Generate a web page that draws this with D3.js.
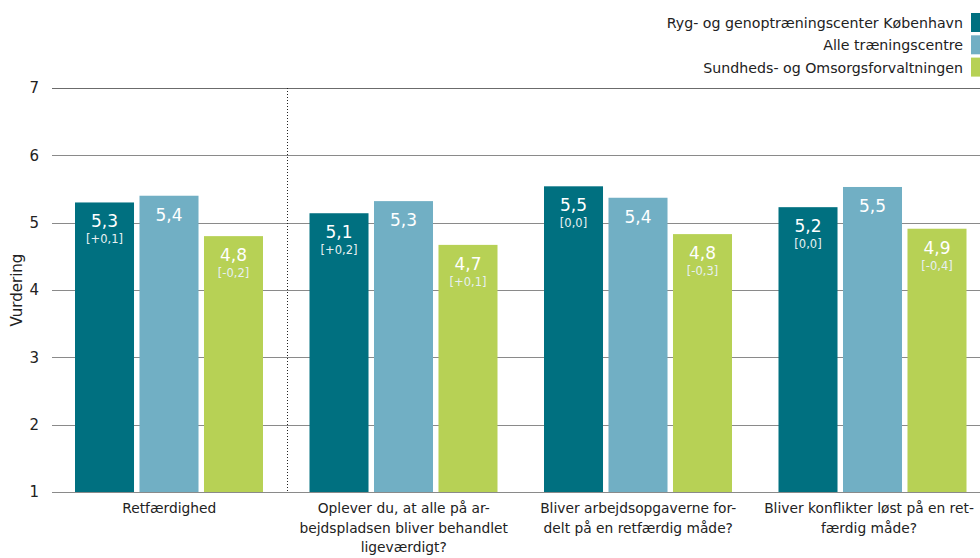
<!DOCTYPE html>
<html><head><meta charset="utf-8">
<script src="https://cdn.jsdelivr.net/npm/d3@7"></script>
<style>
html,body{margin:0;padding:0;background:#fff;}
svg{display:block;font-family:Tahoma,"DejaVu Sans",Verdana,sans-serif;}
</style></head>
<body><svg id="chart" width="980" height="558"></svg>
<script>
const categories = [
  ["Retfærdighed"],
  ["Oplever du, at alle på ar-","bejdspladsen bliver behandlet","ligeværdigt?"],
  ["Bliver arbejdsopgaverne for-","delt på en retfærdig måde?"],
  ["Bliver konflikter løst på en ret-","færdig måde?"]
];
const seriesNames = ["Ryg- og genoptræningscenter København","Alle træningscentre","Sundheds- og Omsorgsforvaltningen"];
const seriesColors = ["#007080","#71afc4","#b7d155"];
const valuesCenter = [5.3, 5.14, 5.54, 5.23];
const valuesAll = [5.4, 5.32, 5.37, 5.53];
const valuesSOF = [4.8, 4.67, 4.83, 4.91];
const labelsCenter = ["5,3","5,1","5,5","5,2"];
const labelsAll = ["5,4","5,3","5,4","5,5"];
const labelsSOF = ["4,8","4,7","4,8","4,9"];
const diffCenter = ["[+0,1]","[+0,2]","[0,0]","[0,0]"];
const diffSOF = ["[-0,2]","[+0,1]","[-0,3]","[-0,4]"];
const yTicks = [1,2,3,4,5,6,7];

const series = [
  {values: valuesCenter, labels: labelsCenter, diffs: diffCenter},
  {values: valuesAll, labels: labelsAll, diffs: null},
  {values: valuesSOF, labels: labelsSOF, diffs: diffSOF}
];

const svg = d3.select("#chart");
const x0 = d3.scaleBand().domain(d3.range(categories.length)).range([52, 990]).paddingInner(0).paddingOuter(0);
const x1 = d3.scaleBand().domain(d3.range(series.length)).range([23, 211]).paddingInner(0.085).paddingOuter(0);
const y = d3.scaleLinear().domain([1,7]).range([492, 88]);

// y axis labels
const yAxis = d3.axisLeft(y).tickValues(yTicks).tickSize(0).tickPadding(13).tickFormat(d3.format("d"));
const ga = svg.append("g").attr("transform","translate(52,0)").call(yAxis);
ga.select(".domain").remove();
ga.selectAll("text").attr("font-size",15).attr("fill","#222").attr("font-family",'Tahoma,"DejaVu Sans",sans-serif');
// grid
svg.append("g").selectAll("line").data(yTicks).join("line")
  .attr("x1",52).attr("x2",980).attr("y1",d=>Math.round(y(d))+0.5).attr("y2",d=>Math.round(y(d))+0.5)
  .attr("stroke",d=>d===7?"#6b6b6b":"#8a8a8a").attr("stroke-width",1.2);

// dotted separator
svg.append("line").attr("x1",Math.round(x0(1))+0.5).attr("x2",Math.round(x0(1))+0.5)
  .attr("y1",y(7)).attr("y2",y(1)).attr("stroke","#222").attr("stroke-width",1).attr("stroke-dasharray","1,2");

// y label
svg.append("text").attr("transform","translate(22,"+y(4)+") rotate(-90)").attr("text-anchor","middle")
  .attr("font-size",15).attr("fill","#222").text("Vurdering");

// bars
const groups = svg.append("g").selectAll("g").data(series).join("g");
groups.selectAll("rect").data((s,si)=>s.values.map((v,ci)=>({v,ci,si}))).join("rect")
  .attr("x",d=>x0(d.ci)+x1(d.si)).attr("width",x1.bandwidth())
  .attr("y",d=>y(d.v)).attr("height",d=>y(1)-y(d.v)).attr("fill",d=>seriesColors[d.si]);

groups.each(function(s,si){
  const g = d3.select(this);
  g.selectAll("text.val").data(s.labels).join("text").attr("class","val")
    .attr("x",(d,ci)=>x0(ci)+x1(si)+x1.bandwidth()/2).attr("y",(d,ci)=>y(s.values[ci])+25)
    .attr("text-anchor","middle").attr("fill","#fff").attr("font-size",17).text(d=>d);
  if(s.diffs){
    g.selectAll("text.diff").data(s.diffs).join("text").attr("class","diff")
      .attr("x",(d,ci)=>x0(ci)+x1(si)+x1.bandwidth()/2).attr("y",(d,ci)=>y(s.values[ci])+41)
      .attr("text-anchor","middle").attr("fill","#e8f0f2").attr("font-size",11.5).text(d=>d);
  }
});

// category labels
const cl = svg.append("g").selectAll("text").data(categories).join("text")
  .attr("x",(d,i)=>Math.min(x0(i)+x0.bandwidth()/2, 869)).attr("y",513).attr("text-anchor","middle")
  .attr("font-size",13.8).attr("fill","#222");
cl.selectAll("tspan").data(d=>d).join("tspan")
  .attr("x",function(){return d3.select(this.parentNode).attr("x");})
  .attr("dy",(d,i)=>i===0?0:19.5).text(d=>d);

// legend
const lg = svg.append("g").selectAll("g").data(seriesNames).join("g")
  .attr("transform",(d,i)=>"translate(0,"+(i*22.3)+")");
lg.append("rect").attr("x",971).attr("y",13).attr("width",12).attr("height",19).attr("fill",(d,i)=>seriesColors[i]);
lg.append("text").attr("x",963).attr("y",28).attr("text-anchor","end").attr("font-size",14.2).attr("fill","#222").text(d=>d);
</script></body></html>
